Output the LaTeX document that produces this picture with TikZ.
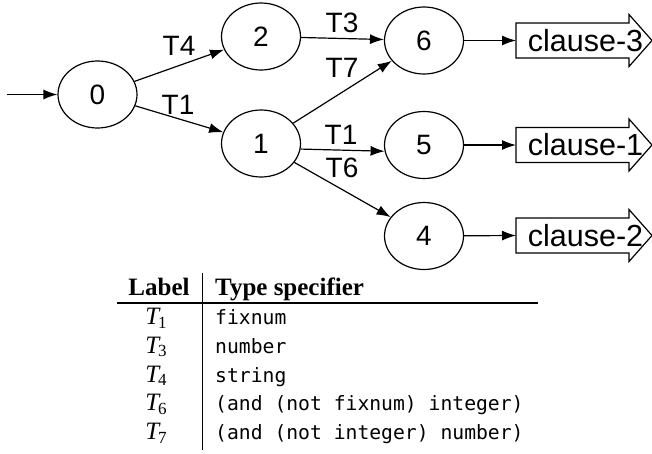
\documentclass[tikz,border=0pt]{standalone}
\usepackage{fontspec}
\setmainfont{Liberation Serif}
\setsansfont{Liberation Sans}
\setmonofont{DejaVu Sans Mono}
\usetikzlibrary{arrows.meta,shapes.geometric}
\newcommand\clausearrow[1]{%
  \draw[line width=1.2pt] ([shift={(-69.5,-17.5)}]#1.center) -- ([shift={(43.5,-17.5)}]#1.center)
    -- ([shift={(43.5,-26)}]#1.center) -- ([shift={(66.5,0)}]#1.center)
    -- ([shift={(43.5,26)}]#1.center) -- ([shift={(43.5,17.5)}]#1.center)
    -- ([shift={(-69.5,17.5)}]#1.center) -- cycle;}
\newcommand\tsub[1]{{\itshape T}\kern-1pt\raisebox{-3.5pt}{\fontsize{17}{17}\selectfont #1}}
\begin{document}
\begin{tikzpicture}[x=1pt,y=-1pt,
  state/.style={draw, ellipse, line width=1.2pt, minimum width=79pt, minimum height=67pt,
    inner sep=0pt, font=\sffamily\fontsize{28}{30}\selectfont},
  edge/.style={-{Latex[length=14pt,width=10pt]}, line width=1.2pt},
  elabel/.style={inner sep=0pt, font=\sffamily\fontsize{28}{30}\selectfont},
  clausetext/.style={inner sep=0pt, font=\sffamily\fontsize{30.5}{32}\selectfont},
  hdr/.style={inner sep=0pt, font=\rmfamily\bfseries\fontsize{25}{28}\selectfont},
  lab/.style={inner sep=0pt, anchor=base, font=\rmfamily\fontsize{25}{28}\selectfont},
  spec/.style={inner sep=0pt, anchor=base west, font=\ttfamily\fontsize{19.7}{24}\selectfont}]
\useasboundingbox (0,0) rectangle (652,453);
% states
\node[state] (n0) at (97.5,94.5) {0};
\node[state] (n2) at (261,36.5) {2};
\node[state] (n1) at (261,143.5) {1};
\node[state] (n6) at (424,40.5) {6};
\node[state] (n5) at (424,145) {5};
\node[state] (n4) at (424,236) {4};
\coordinate (start) at (7,94.5);
% clauses
\node[clausetext] (c3) at (585.5,40.5) {clause-3};
\node[clausetext] (c1) at (585.5,145) {clause-1};
\node[clausetext] (c2) at (585.5,235.5) {clause-2};
\clausearrow{c3}
\clausearrow{c1}
\clausearrow{c2}
\coordinate (c3in) at ([xshift=-69.5pt]c3.center);
\coordinate (c1in) at ([xshift=-69.5pt]c1.center);
\coordinate (c2in) at ([xshift=-69.5pt]c2.center);
% edges
\draw[edge] (start) -- (n0);
\draw[edge] (n0) -- (n2);
\draw[edge] (n0) -- (n1);
\draw[edge] (n2) -- (n6);
\draw[edge] (n1) -- (n6);
\draw[edge] (n1.-8) -- (n5.189);
\draw[edge] (n1) -- (n4);
\draw[edge] (n6) -- (c3in);
\draw[edge] (n5) -- (c1in);
\draw[edge] (n4) -- (c2in);
% edge labels
\node[elabel] (lT4) at (179,46) {T4};
\node[elabel] (lT1a) at (178,105) {T1};
\node[elabel] (lT3) at (342,23) {T3};
\node[elabel] (lT7) at (342,68) {T7};
\node[elabel] (lT1b) at (341,135) {T1};
\node[elabel] (lT6) at (342,168) {T6};
% table
\node[hdr, anchor=base] (hl) at (159,295) {Label};
\node[hdr, anchor=base west] (ht) at (215,295) {Type specifier};
\draw[line width=1.3pt] (117,303) -- (538,303);
\draw[line width=1pt] (202,273) -- (202,450);
\node[lab] (r1l) at (156,324.5) {\tsub{1}};
\node[lab] (r2l) at (156,353.3) {\tsub{3}};
\node[lab] (r3l) at (156,382.1) {\tsub{4}};
\node[lab] (r4l) at (156,410.9) {\tsub{6}};
\node[lab] (r5l) at (156,439.7) {\tsub{7}};
\node[spec] (r1s) at (215,324.5) {fixnum};
\node[spec] (r2s) at (215,353.3) {number};
\node[spec] (r3s) at (215,382.1) {string};
\node[spec] (r4s) at (215,410.9) {(and (not fixnum) integer)};
\node[spec] (r5s) at (215,439.7) {(and (not integer) number)};
\end{tikzpicture}
\end{document}
